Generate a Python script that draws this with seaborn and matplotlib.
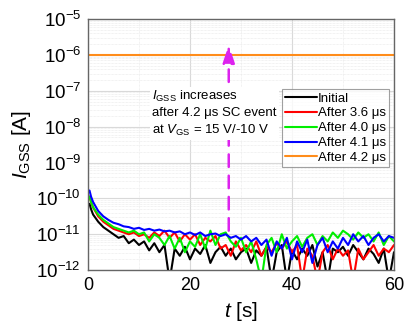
import numpy as np
import pandas as pd
import matplotlib
matplotlib.use("Agg")
import matplotlib.pyplot as plt
import seaborn as sns
from matplotlib.ticker import LogLocator, NullFormatter, MultipleLocator

sns.set_theme(style="white")
plt.rcParams['font.family'] = ['Liberation Sans', 'DejaVu Sans']
plt.rcParams['mathtext.fontset'] = 'custom'
plt.rcParams['mathtext.rm'] = 'Liberation Sans'
plt.rcParams['mathtext.it'] = 'Liberation Sans:italic'
plt.rcParams['text.color'] = 'black'
plt.rcParams['axes.labelcolor'] = 'black'
plt.rcParams['xtick.color'] = 'black'
plt.rcParams['ytick.color'] = 'black'

t = [0.3, 0.6] + list(range(1, 61))

log_initial = [-10.15, -10.3, -10.45, -10.65, -10.8, -10.9, -11.0, -11.1, -11.05, -11.25, -11.15, -11.3,
               -11.2, -11.45, -11.25, -11.5, -11.3, -12.3, -11.4, -11.6, -11.35, -11.7, -11.4, -11.55,
               -11.3, -11.8, -11.5, -11.35, -11.6, -11.4, -11.7, -11.5, -11.4, -11.8, -11.45, -11.6,
               -11.35, -12.3, -11.5, -11.3, -12.3, -11.45, -11.7, -11.4, -11.6, -11.3, -11.9, -11.5,
               -12.3, -11.4, -11.5, -11.35, -11.6, -11.3, -11.5, -11.7, -11.4, -11.55, -11.8, -11.4,
               -12.3, -11.5]
log_36 = [-9.95, -10.1, -10.25, -10.5, -10.65, -10.75, -10.85, -10.9, -10.95, -11.0, -10.95, -11.05,
          -11.0, -11.1, -10.95, -11.05, -10.9, -11.1, -10.95, -11.2, -11.0, -11.15, -11.0, -11.3,
          -11.1, -11.2, -11.05, -11.4, -11.3, -11.6, -11.2, -11.45, -11.3, -11.5, -11.2, -11.6,
          -11.35, -11.5, -11.25, -11.4, -11.2, -11.5, -11.3, -12.3, -11.4, -11.6, -12.3, -11.5,
          -11.3, -11.7, -11.4, -11.6, -11.45, -12.3, -11.4, -11.7, -11.5, -11.3, -11.6, -11.4,
          -11.5, -11.3]
log_40 = [-9.95, -10.1, -10.25, -10.45, -10.6, -10.7, -10.8, -10.85, -10.9, -10.95, -10.9, -11.0,
          -10.95, -11.2, -11.0, -11.1, -11.3, -11.05, -11.4, -11.1, -11.5, -11.2, -11.35, -11.0,
          -11.4, -10.9, -11.3, -11.0, -10.95, -11.2, -11.35, -11.1, -11.5, -11.2, -11.7, -12.3,
          -11.3, -11.1, -11.5, -11.0, -11.4, -11.2, -11.05, -11.35, -11.1, -11.0, -11.3, -11.05,
          -11.2, -10.95, -11.1, -10.9, -11.0, -11.15, -10.95, -11.1, -11.0, -11.2, -10.95, -11.3,
          -11.05, -11.2]
log_41 = [-9.78, -9.95, -10.1, -10.35, -10.5, -10.6, -10.68, -10.72, -10.78, -10.8, -10.85, -10.82,
          -10.88, -10.85, -10.9, -10.87, -10.92, -10.9, -10.95, -10.92, -11.0, -10.95, -11.02, -10.95,
          -11.05, -11.0, -10.98, -11.05, -11.0, -11.1, -11.05, -11.15, -11.05, -11.2, -11.1, -11.3,
          -11.15, -11.6, -11.2, -11.4, -11.1, -11.7, -11.2, -11.5, -11.15, -11.8, -11.3, -11.1,
          -11.5, -11.2, -11.4, -11.1, -11.3, -11.0, -11.2, -11.05, -11.3, -11.1, -11.0, -11.2,
          -11.05, -11.1]
t_42 = [0, 60]
i_42 = [1e-6, 1e-6]

labels = ["Initial", "After 3.6 μs", "After 4.0 μs", "After 4.1 μs", "After 4.2 μs"]
colors = ["#000000", "#ff0000", "#00ee00", "#0000ff", "#ff8c1a"]

frames = []
for lab, lg in zip(labels[:4], [log_initial, log_36, log_40, log_41]):
    frames.append(pd.DataFrame({"t": t, "I": 10.0 ** np.array(lg), "series": lab}))
frames.append(pd.DataFrame({"t": t_42, "I": i_42, "series": labels[4]}))
df = pd.concat(frames, ignore_index=True)

fig = plt.figure(figsize=(4.06, 3.29), dpi=100)
ax = fig.add_axes([0.2167, 0.179, 0.7537, 0.763])

sns.lineplot(data=df, x="t", y="I", hue="series", hue_order=labels,
             palette=dict(zip(labels, colors)), linewidth=1.5, ax=ax,
             estimator=None, sort=False, legend=True)

ax.set_yscale("log")
ax.set_xlim(0, 60)
ax.set_ylim(1e-12, 1e-5)
ax.xaxis.set_major_locator(MultipleLocator(20))
ax.xaxis.set_minor_locator(MultipleLocator(10))
ax.yaxis.set_major_locator(LogLocator(base=10, numticks=20))
ax.yaxis.set_minor_locator(LogLocator(base=10, subs=np.arange(2, 10), numticks=20))
ax.yaxis.set_minor_formatter(NullFormatter())

ax.grid(True, which="major", color="#d9d9d9", linewidth=0.8)
ax.grid(True, which="minor", color="#e6e6e6", linewidth=0.5, linestyle=(0, (1, 1)))
ax.set_axisbelow(True)
for s in ax.spines.values():
    s.set_color("#666666")
    s.set_linewidth(1.0)
ax.tick_params(axis="both", which="major", labelsize=13.5, length=3, color="#666666", direction="out", pad=2)
ax.tick_params(axis="x", which="major", labelsize=13)
ax.tick_params(axis="both", which="minor", length=2, color="#666666", direction="in")

ax.set_xlabel(r"$\mathit{t}$ [s]", fontsize=15, labelpad=4)
ax.set_ylabel(r"$\mathit{I}_{\mathrm{GSS}}$ [A]", fontsize=15, labelpad=2)

ax.annotate("", xy=(27.6, 10 ** -5.72), xytext=(27.6, 10 ** -10.9),
            arrowprops=dict(arrowstyle="-|>,head_length=0.9,head_width=0.3", color="#dd22ee",
                            lw=1.8, linestyle=(0, (5, 3.5)), shrinkA=0, shrinkB=0))

ax.text(12.6, 10 ** -6.95,
        "$\\mathit{I}_{\\mathrm{GSS}}$ increases\nafter 4.2 μs SC event\nat $\\mathit{V}_{\\mathrm{GS}}$ = 15 V/-10 V",
        fontsize=9.5, va="top", ha="left", linespacing=1.35,
        bbox=dict(facecolor="white", edgecolor="none", pad=1.5))

leg = ax.legend(loc="upper right", bbox_to_anchor=(0.998, 0.737), fontsize=9.5, frameon=True,
                fancybox=False, edgecolor="#888888", handlelength=2.4, handletextpad=0.1,
                labelspacing=0.2, borderpad=0.25, borderaxespad=0.3)
leg.get_frame().set_linewidth(0.8)
for h in leg.get_lines():
    h.set_linewidth(1.5)

fig.savefig("out.png", dpi=100)
